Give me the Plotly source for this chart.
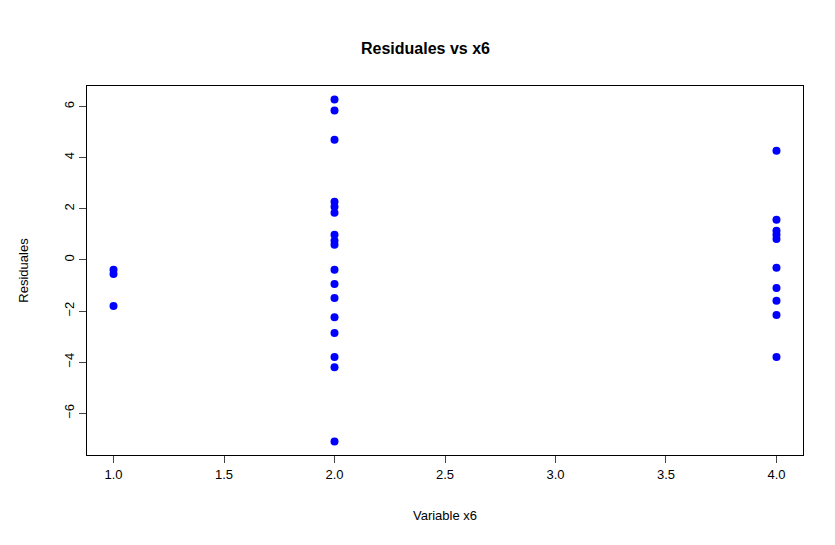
import plotly.graph_objects as go

# valores
x1_res = [-0.39, -0.55, -1.8]
x2_res = [6.27, 5.84, 4.7, 2.27, 2.08, 1.84, 0.98, 0.75, 0.59, -0.39, -0.94,
          -1.49, -2.24, -2.86, -3.8, -4.2, -7.1]
x4_res = [4.27, 1.57, 1.14, 0.98, 0.82, -0.31, -1.1, -1.6, -2.16, -3.8]

x6 = [1] * len(x1_res) + [2] * len(x2_res) + [4] * len(x4_res)
residuales = x1_res + x2_res + x4_res

x_ticks = [1.0, 1.5, 2.0, 2.5, 3.0, 3.5, 4.0]
y_ticks = [-6, -4, -2, 0, 2, 4, 6]

fig = go.Figure(go.Scatter(x=x6, y=residuales, mode="markers",
                           marker=dict(color="#0000ff", size=8)))

fig.update_layout(
    width=835, height=545,
    plot_bgcolor="white", paper_bgcolor="white",
    margin=dict(l=79, r=40, t=78, b=98, autoexpand=False),
    font=dict(family="Liberation Sans, Arial", size=13, color="black"),
    title=dict(text="<b>Residuales vs x6</b>", x=0.5, xanchor="center",
               y=0.925, yanchor="middle", font=dict(size=16)),
    showlegend=False,
)
fig.update_xaxes(range=[0.88, 4.12], tickvals=x_ticks,
                 ticktext=[f"{v:.1f}" for v in x_ticks], automargin=False,
                 tickfont=dict(size=13),
                 showgrid=False, zeroline=False, showline=True, mirror=True,
                 linecolor="black", linewidth=1, ticks="outside", ticklen=7,
                 title=dict(text="Variable x6", standoff=30, font=dict(size=13)))
fig.update_yaxes(range=[-7.63, 6.8], tickvals=y_ticks, tickangle=-90,
                 automargin=False, tickfont=dict(size=13),
                 showgrid=False, zeroline=False, showline=True, mirror=True,
                 linecolor="black", linewidth=1, ticks="outside", ticklen=7,
                 title=dict(text="Residuales", standoff=30, font=dict(size=13)))

fig.write_html("out.html")
